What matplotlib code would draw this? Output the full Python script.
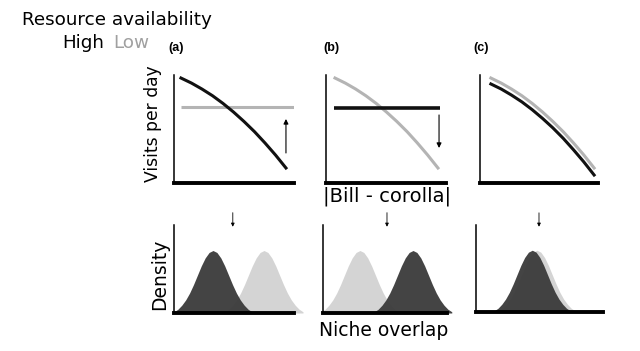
import matplotlib.pyplot as plt
import numpy as np

W, H = 640, 351

# top row: visits per day vs |bill - corolla| (axes units 0..1)
curve_x_a = [0.058, 0.146, 0.233, 0.321, 0.408, 0.496, 0.583, 0.671, 0.758, 0.846, 0.933]
curve_x_b = [0.075, 0.161, 0.247, 0.332, 0.418, 0.504, 0.590, 0.676, 0.761, 0.847, 0.933]
curve_x_c = [0.092, 0.180, 0.267, 0.355, 0.442, 0.530, 0.617, 0.705, 0.792, 0.880, 0.967]
curve_y_hi = [0.972, 0.925, 0.870, 0.808, 0.737, 0.657, 0.570, 0.475, 0.371, 0.259, 0.139]
curve_y_c_black = [0.917, 0.870, 0.814, 0.751, 0.679, 0.598, 0.511, 0.414, 0.308, 0.195, 0.074]
flat_a = ([0.058, 1.0], [0.704, 0.704])   # low resource, gray
flat_b = ([0.067, 0.95], [0.694, 0.694])  # high resource, black

# bottom row: density profile (bell shape) and peak positions
bell_z = [-2.5, -2.25, -2, -1.75, -1.5, -1.25, -1, -0.75, -0.5, -0.25, 0,
          0.25, 0.5, 0.75, 1, 1.25, 1.5, 1.75, 2, 2.25, 2.5]
bell_h = [0.02, 0.06, 0.125, 0.21, 0.32, 0.455, 0.605, 0.755, 0.882, 0.969, 1.0,
          0.969, 0.882, 0.755, 0.605, 0.455, 0.32, 0.21, 0.125, 0.06, 0.02]
peak_dark = [0.325, 0.726, 0.443]
peak_light = [0.750, 0.298, 0.480]
peak_height = 0.71
bell_sd = [0.13, 0.125, 0.12]
arrow_bottom_x = [0.49, 0.516, 0.496]

BLACK = '#111111'
GRAY = '#b4b4b4'
DARK_FILL = '#3a3a3a'
LIGHT_FILL = '#d4d4d4'


def px_axes(left, top, right, bottom):
    return fig.add_axes([left / W, 1 - bottom / H, (right - left) / W, (bottom - top) / H])


def style(ax):
    ax.set_xlim(0, 1)
    ax.set_ylim(0, 1)
    ax.set_xticks([])
    ax.set_yticks([])
    for s in ['top', 'right']:
        ax.spines[s].set_visible(False)
    ax.spines['left'].set_linewidth(1.1)
    ax.spines['bottom'].set_linewidth(2.8)
    ax.patch.set_alpha(0)


arrow_kw = dict(arrowstyle='-|>', color='black', lw=0.8, mutation_scale=7, shrinkA=0, shrinkB=0)

fig = plt.figure(figsize=(6.4, 3.51), dpi=100)

# top panels
ta = px_axes(174, 75, 294, 183)
tb = px_axes(326, 75, 446, 183)
tc = px_axes(480, 75, 598, 183)
for ax in (ta, tb, tc):
    style(ax)

ta.plot(*flat_a, color=GRAY, lw=2.2, solid_capstyle='butt')
ta.plot(curve_x_a, curve_y_hi, color=BLACK, lw=2.2)
ta.annotate('', xy=(0.933, 0.593), xytext=(0.933, 0.278), arrowprops=arrow_kw)

tb.plot(curve_x_b, curve_y_hi, color=GRAY, lw=2.2)
tb.plot(*flat_b, color=BLACK, lw=2.6, solid_capstyle='butt')
tb.annotate('', xy=(0.942, 0.324), xytext=(0.942, 0.63), arrowprops=arrow_kw)

tc.plot(curve_x_c, curve_y_hi, color=GRAY, lw=2.2)
tc.plot(curve_x_c, curve_y_c_black, color=BLACK, lw=2.2)

# bottom panels
ba = px_axes(174, 225, 294, 313)
bb = px_axes(323, 225, 447, 313)
bc = px_axes(476, 225, 603, 312)
for i, ax in enumerate((ba, bb, bc)):
    style(ax)
    z = np.array(bell_z)
    h = np.array(bell_h) * peak_height
    ax.fill_between(peak_light[i] + z * bell_sd[i], 0, h, color=LIGHT_FILL, lw=0, clip_on=False, zorder=1)
    ax.fill_between(peak_dark[i] + z * bell_sd[i], 0, h, color=DARK_FILL, lw=0, alpha=0.95, clip_on=False, zorder=2)
    ax.annotate('', xy=(arrow_bottom_x[i], 0.98), xytext=(arrow_bottom_x[i], 1.14),
                xycoords='axes fraction', annotation_clip=False,
                arrowprops=dict(arrow_kw, lw=0.6, mutation_scale=5))
    ax.spines['bottom'].set_zorder(5)

# text
fig.text(22 / W, 1 - 20 / H, 'Resource availability', fontsize=13.2, va='center', ha='left')
fig.text(62 / W, 1 - 43 / H, 'High', fontsize=13.2, va='center', ha='left')
fig.text(113 / W, 1 - 43 / H, 'Low', fontsize=13.2, va='center', ha='left', color='#a0a0a0')
for lab, x in [('(a)', 176), ('(b)', 331), ('(c)', 481)]:
    fig.text(x / W, 1 - 48 / H, lab, fontsize=9, fontweight='bold', ha='center', va='center',
             family='Liberation Sans')
fig.text(153 / W, 1 - 124 / H, 'Visits per day', fontsize=12.3, rotation=90, ha='center', va='center')
fig.text(387 / W, 1 - 196 / H, '|Bill - corolla|', fontsize=14, ha='center', va='center')
fig.text(160 / W, 1 - 274 / H, 'Density', fontsize=13.5, rotation=90, ha='center', va='center')
fig.text(384 / W, 1 - 330 / H, 'Niche overlap', fontsize=13.5, ha='center', va='center')

fig.savefig('out.png', dpi=100)
